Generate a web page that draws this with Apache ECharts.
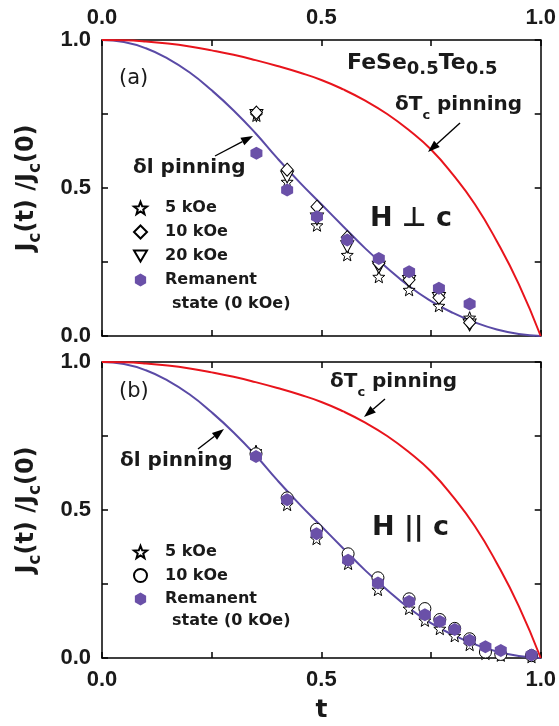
<!DOCTYPE html>
<html>
<head>
<meta charset="utf-8">
<script src="https://cdn.jsdelivr.net/npm/echarts@6/dist/echarts.min.js"></script>
<style>html,body{margin:0;padding:0;background:#fff}#c{width:559px;height:726px}</style>
</head>
<body>
<div id="c"></div>
<script>
// ---------- data ----------
const X_TICKS = [0, 0.5, 1];
const X_TICK_LABELS = ['0.0', '0.5', '1.0'];
const Y_TICKS = [0, 0.5, 1];
const Y_TICK_LABELS = ['0.0', '0.5', '1.0'];

// theoretical curves
const CURVE_T = [0, 0.05, 0.1, 0.15, 0.2, 0.25, 0.3, 0.35, 0.4, 0.45, 0.5, 0.55, 0.6, 0.65, 0.7, 0.75, 0.8, 0.85, 0.9, 0.95, 1.0];
const DL_PINNING = [1.0, 0.993, 0.972, 0.937, 0.89, 0.83, 0.762, 0.685, 0.60, 0.52, 0.445, 0.37, 0.296, 0.23, 0.168, 0.118, 0.078, 0.046, 0.022, 0.007, 0.0];
const DTC_PINNING = [1.0, 0.999, 0.995, 0.988, 0.978, 0.965, 0.95, 0.932, 0.912, 0.89, 0.865, 0.833, 0.795, 0.75, 0.695, 0.63, 0.545, 0.445, 0.32, 0.175, 0.0];

// panel (a) H perp c
const T_A = [0.352, 0.422, 0.490, 0.559, 0.631, 0.700, 0.768, 0.838];
const A_5KOE = [0.745, 0.521, 0.374, 0.274, 0.200, 0.156, 0.102, 0.062];
const A_10KOE = [0.755, 0.562, 0.437, 0.334, 0.245, 0.190, 0.130, 0.045];
const A_20KOE = [0.745, 0.537, 0.395, 0.302, 0.232, 0.184, 0.127, 0.037];
const A_REM = [0.617, 0.493, 0.403, 0.324, 0.262, 0.217, 0.161, 0.108];

// panel (b) H || c
const T_B = [0.351, 0.422, 0.489, 0.561, 0.629, 0.700, 0.736, 0.770, 0.804, 0.838, 0.874, 0.909, 0.979];
const B_5KOE = [0.699, 0.518, 0.403, 0.319, 0.231, 0.167, 0.127, 0.099, 0.075, 0.045, 0.015, 0.009, 0.004];
const B_10KOE = [0.690, 0.541, 0.435, 0.352, 0.271, 0.200, 0.167, 0.130, 0.100, 0.065, 0.020, 0.012, 0.008];
const B_REM = [0.681, 0.535, 0.420, 0.330, 0.253, 0.191, 0.146, 0.123, 0.096, 0.060, 0.038, 0.025, 0.010];

// ---------- styling ----------
const FONT = 'DejaVu Sans, Liberation Sans, sans-serif';
const TICK_FONT = 'Liberation Sans, Arial, sans-serif';
const PURPLE = '#6a50a8';
const LINE_PURPLE = '#5a4aa6';
const RED = '#e8141c';
const INK = '#1a1a1a';
const HEX = 'path://M0,-100L86.6,-50L86.6,50L0,100L-86.6,50L-86.6,-50Z';
const STAR = 'path://M0,-100L25,-34L95.1,-30.9L40,13L58.8,80.9L0,42L-58.8,80.9L-40,13L-95.1,-30.9L-25,-34Z';
const TRI_DOWN = 'path://M-50,-43L50,-43L0,43Z';

const zip = (xs, ys) => xs.map((x, i) => [x, ys[i]]);
const tickFmt = (ticks, labels) => v => {
  const i = ticks.findIndex(t => Math.abs(t - v) < 1e-6);
  return i >= 0 ? labels[i] : '';
};

function xAx(gi, pos, show, extra) {
  return Object.assign({
    type: 'value', gridIndex: gi, position: pos, min: 0, max: 1, interval: 0.25,
    axisLine: { show: true, onZero: false, lineStyle: { color: '#000', width: 1.5 } },
    axisTick: { show: true, inside: true, length: 6, lineStyle: { color: '#000', width: 1.5 } },
    axisLabel: { show: show, formatter: tickFmt(X_TICKS, X_TICK_LABELS), fontSize: 22, fontWeight: 'bold', color: INK, margin: 11, fontFamily: TICK_FONT },
    splitLine: { show: false }
  }, extra || {});
}
function yAx(gi, pos, show, extra) {
  return Object.assign({
    type: 'value', gridIndex: gi, position: pos, min: 0, max: 1, interval: 0.25,
    axisLine: { show: true, onZero: false, lineStyle: { color: '#000', width: 1.5 } },
    axisTick: { show: true, inside: true, length: 6, lineStyle: { color: '#000', width: 1.5 } },
    axisLabel: { show: show, formatter: tickFmt(Y_TICKS, Y_TICK_LABELS), fontSize: 22, fontWeight: 'bold', color: INK, margin: 11, fontFamily: TICK_FONT },
    splitLine: { show: false }
  }, extra || {});
}

const yName = {
  name: '{b|J}{s|c}{b|(t) /J}{s|c}{b|(0)}',
  nameLocation: 'middle', nameRotate: 90, nameGap: 58,
  nameTextStyle: {
    rich: {
      b: { fontSize: 24, fontWeight: 'bold', fontFamily: FONT, color: INK, verticalAlign: 'top' },
      s: { fontSize: 17, fontWeight: 'bold', fontFamily: FONT, color: INK, verticalAlign: 'top', padding: [12, 0, 0, 0] }
    }
  }
};

const openStyle = { color: '#fff', borderColor: '#000', borderWidth: 1, opacity: 1 };
const hexStyle = { color: PURPLE, opacity: 1 };

function curveSeries(xi, yi, suffix) {
  return [
    { name: 'δl pinning' + suffix, type: 'line', xAxisIndex: xi, yAxisIndex: yi, data: zip(CURVE_T, DL_PINNING), smooth: true, showSymbol: false, lineStyle: { color: LINE_PURPLE, width: 2 }, z: 2, silent: true },
    { name: 'δTc pinning' + suffix, type: 'line', xAxisIndex: xi, yAxisIndex: yi, data: zip(CURVE_T, DTC_PINNING), smooth: true, showSymbol: false, lineStyle: { color: RED, width: 2 }, z: 2, silent: true }
  ];
}

const richSub = (bs, ss, pad) => ({
  b: { fontSize: bs, fontWeight: 'bold', fontFamily: FONT, fill: INK, verticalAlign: 'top' },
  s: { fontSize: ss, fontWeight: 'bold', fontFamily: FONT, fill: INK, verticalAlign: 'top', padding: [pad, 0, 0, 0] }
});
function txt(x, y, text, rich) {
  return { type: 'text', x: x, y: y, z: 50, style: { text: text, rich: rich, align: 'left', verticalAlign: 'top' } };
}
function plain(x, y, text, size, weight) {
  return { type: 'text', x: x, y: y, z: 50, style: { text: text, fontSize: size, fontWeight: weight, fontFamily: FONT, fill: INK, align: 'left', verticalAlign: 'top' } };
}
function arrow(x1, y1, x2, y2) {
  const a = Math.atan2(y2 - y1, x2 - x1), L = 12, W = 4.2;
  const bx = x2 - L * Math.cos(a), by = y2 - L * Math.sin(a);
  return [
    { type: 'line', z: 50, shape: { x1: x1, y1: y1, x2: bx, y2: by }, style: { stroke: '#000', lineWidth: 1.4 } },
    { type: 'polygon', z: 50, shape: { points: [[x2, y2], [bx + W * Math.sin(a), by - W * Math.cos(a)], [bx - W * Math.sin(a), by + W * Math.cos(a)]] }, style: { fill: '#000' } }
  ];
}

const legendText = { fontSize: 16, fontWeight: 'bold', fontFamily: FONT, color: INK, lineHeight: 16, padding: [0, 0, 0, 13] };

const chart = echarts.init(document.getElementById('c'), null, { renderer: 'canvas' });
const option = {
  backgroundColor: '#fff',
  animation: false,
  grid: [
    { left: 102, top: 40, width: 439, height: 296 },
    { left: 102, top: 362, width: 439, height: 296 }
  ],
  xAxis: [
    xAx(0, 'bottom', false),
    xAx(0, 'top', true),
    xAx(1, 'bottom', true, { name: 't', nameLocation: 'middle', nameGap: 40, nameTextStyle: { fontSize: 25, fontWeight: 'bold', fontFamily: FONT, color: INK } }),
    xAx(1, 'top', false)
  ],
  yAxis: [
    yAx(0, 'left', true, yName),
    yAx(0, 'right', false),
    yAx(1, 'left', true, yName),
    yAx(1, 'right', false)
  ],
  legend: [
    { data: ['5 kOe', '10 kOe', '20 kOe', 'Remanent'], orient: 'vertical', left: 133, top: 200, itemWidth: 13, itemHeight: 13, itemGap: 8, padding: 0, selectedMode: false,
      textStyle: legendText },
    { data: ['5 kOe (b)', '10 kOe (b)', 'Remanent (b)'], orient: 'vertical', left: 133, top: 544, itemWidth: 13, itemHeight: 13, itemGap: 7.5, padding: 0, selectedMode: false,
      formatter: n => n.replace(' (b)', ''), textStyle: legendText }
  ],
  series: [
    ...curveSeries(0, 0, ' (a)'),
    { name: '5 kOe', type: 'scatter', xAxisIndex: 0, yAxisIndex: 0, data: zip(T_A, A_5KOE), symbol: STAR, symbolSize: 12, itemStyle: openStyle, z: 3 },
    { name: '20 kOe', type: 'scatter', xAxisIndex: 0, yAxisIndex: 0, data: zip(T_A, A_20KOE), symbol: TRI_DOWN, symbolSize: [13, 12], itemStyle: openStyle, z: 4 },
    { name: '10 kOe', type: 'scatter', xAxisIndex: 0, yAxisIndex: 0, data: zip(T_A, A_10KOE), symbol: 'diamond', symbolSize: [12, 13], itemStyle: openStyle, z: 5 },
    { name: 'Remanent', type: 'scatter', xAxisIndex: 0, yAxisIndex: 0, data: zip(T_A, A_REM), symbol: HEX, symbolSize: [12, 13], itemStyle: hexStyle, z: 6 },
    ...curveSeries(2, 2, ' (b)'),
    { name: '5 kOe (b)', type: 'scatter', xAxisIndex: 2, yAxisIndex: 2, data: zip(T_B, B_5KOE), symbol: STAR, symbolSize: 12, itemStyle: openStyle, z: 3 },
    { name: '10 kOe (b)', type: 'scatter', xAxisIndex: 2, yAxisIndex: 2, data: zip(T_B, B_10KOE), symbol: 'circle', symbolSize: 12, itemStyle: openStyle, z: 4 },
    { name: 'Remanent (b)', type: 'scatter', xAxisIndex: 2, yAxisIndex: 2, data: zip(T_B, B_REM), symbol: HEX, symbolSize: [12, 13], itemStyle: hexStyle, z: 6 }
  ],
  graphic: [
    plain(119, 68, '(a)', 21, 'normal'),
    plain(119, 381, '(b)', 21, 'normal'),
    txt(347, 52, '{b|FeSe}{s|0.5}{b|Te}{s|0.5}', richSub(22, 18, 8)),
    txt(395, 95, '{b|δT}{s|c}{b| pinning}', richSub(20, 13, 14)),
    txt(133, 158, '{b|δl pinning}', richSub(20, 14, 0)),
    txt(370, 205, '{b|H ⊥ c}', richSub(27, 14, 0)),
    plain(172, 296, 'state (0 kOe)', 16, 'bold'),
    txt(330, 372, '{b|δT}{s|c}{b| pinning}', richSub(20, 13, 14)),
    txt(120, 451, '{b|δl pinning}', richSub(20, 14, 0)),
    txt(372, 514, '{b|H || c}', richSub(27, 14, 0)),
    plain(172, 613, 'state (0 kOe)', 16, 'bold'),
    ...arrow(215, 156, 253, 136),
    ...arrow(460, 123, 428, 152),
    ...arrow(198, 449, 224, 429),
    ...arrow(385, 399, 364, 417)
  ]
};
chart.setOption(option);
</script>
</body>
</html>
